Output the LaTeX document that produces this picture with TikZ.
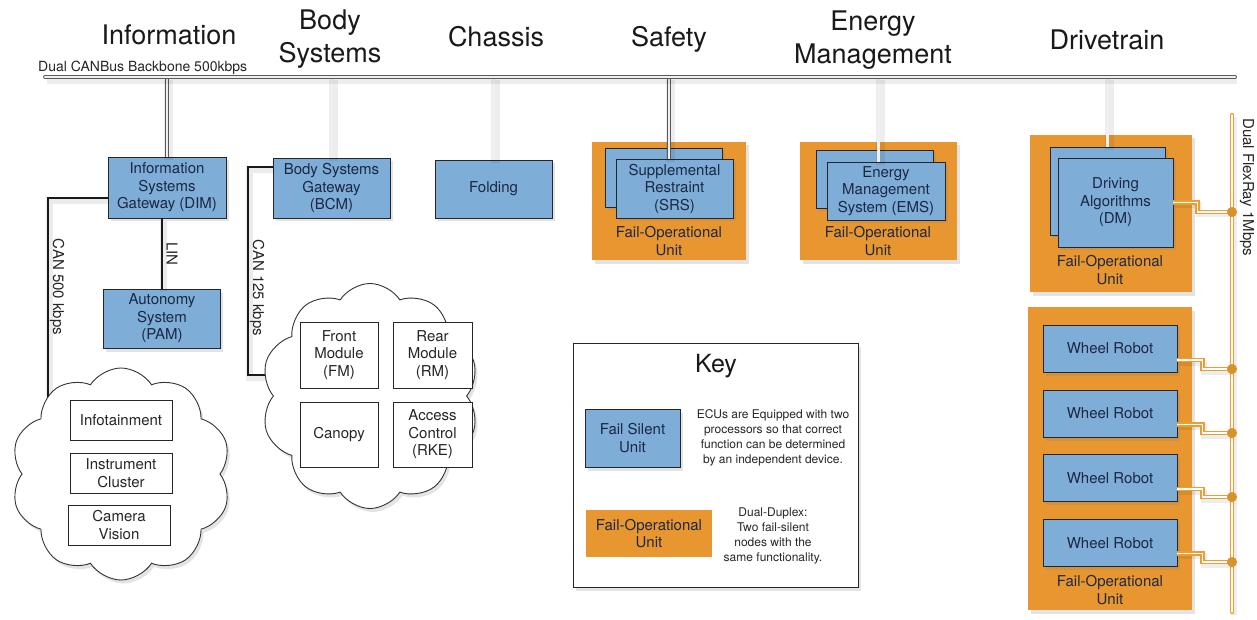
\documentclass[tikz,border=0pt]{standalone}
\usepackage{fontspec}
\setmainfont{TeX Gyre Heros}
\usetikzlibrary{shapes.symbols,shadows,calc}
\definecolor{ecublue}{RGB}{126,173,216}
\definecolor{ecuorange}{RGB}{232,150,48}
\definecolor{ecutext}{RGB}{28,40,66}
\definecolor{flexor}{RGB}{236,158,48}
\begin{document}
\begin{tikzpicture}[x=1pt,y=-1pt,
  every node/.style={font=\fontsize{15}{17.5}\selectfont, inner sep=0pt},
  shd/.style={drop shadow={shadow xshift=2.5pt, shadow yshift=-3.5pt, opacity=0.22}},
  ecu/.style={draw=black!85, line width=0.9pt, fill=ecublue, text=ecutext, align=center, shd},
  fobox/.style={fill=ecuorange, shd},
  folabel/.style={text=ecutext, align=center},
  plainbox/.style={draw=black!85, line width=0.9pt, fill=white, text=black!85, align=center},
  cloudbox/.style={cloud, cloud puffs=10, cloud puff arc=115, aspect=1, draw=black!80, line width=0.9pt, fill=white, shd},
  title/.style={font=\fontsize{27}{33}\selectfont, align=center, text=black!90},
  wlabel/.style={rotate=-90, text=black!85},
  wire/.style={draw=black!90, line width=2.6pt, preaction={draw=black, opacity=0.08, line width=7pt, transform canvas={xshift=1.5pt, yshift=-2.5pt}}},
  dbl/.style={draw=black!65, line width=0.8pt, double=white!88!gray, double distance=2.2pt, preaction={draw=black, opacity=0.07, line width=9pt, transform canvas={xshift=1.5pt, yshift=-3pt}}},
  flex/.style={draw=flexor, line width=1.5pt, double=white, double distance=1.3pt, preaction={draw=black, opacity=0.07, line width=6pt, transform canvas={xshift=1.5pt, yshift=-2.5pt}}},
  dot/.style={circle, fill=flexor!92!black, minimum size=10pt}
]
\fill[white] (0,0) rectangle (1257,620);
\useasboundingbox (0,0) rectangle (1257,620);

% titles
\node[title, anchor=base] (tInfo) at (169,45) {Information};
\node[title, anchor=north] (tBody) at (330,10) {Body\\Systems};
\node[title, anchor=base] (tChassis) at (496,47) {Chassis};
\node[title, anchor=base] (tSafety) at (669,47) {Safety};
\node[title, anchor=north] (tEnergy) at (873,11) {Energy\\Management};
\node[title, anchor=base] (tDrive) at (1107,50) {Drivetrain};

% bus coordinates and label
\coordinate (busL) at (45,77);
\coordinate (busR) at (1235,77);
\node[font=\fontsize{14}{16}\selectfont, anchor=base west, text=black!85] (busLabel) at (38,72) {Dual CANBus Backbone 500kbps};

% blue boxes
\node[ecu, minimum width=118pt, minimum height=61pt] (dim) at (167,187.5) {Information\\Systems\\Gateway (DIM)};
\node[ecu, minimum width=117pt, minimum height=60pt] (bcm) at (331.5,188) {Body Systems\\Gateway\\(BCM)};
\node[ecu, minimum width=117pt, minimum height=58pt] (fold) at (493.5,189) {Folding};
\node[ecu, minimum width=117pt, minimum height=59pt] (pam) at (162,318.5) {Autonomy\\System\\(PAM)};

% safety
\node[fobox, minimum width=154pt, minimum height=118pt] (srsU) at (669,201) {};
\node[ecu, minimum width=117pt, minimum height=59pt] (srsB) at (663.5,177.5) {};
\node[ecu, minimum width=117pt, minimum height=59pt] (srs) at (674.5,188.5) {Supplemental\\Restraint\\(SRS)};
\node[folabel] (srsL) at (669,241) {Fail-Operational\\Unit};

% energy
\node[fobox, minimum width=157pt, minimum height=118pt] (emsU) at (878.5,201) {};
\node[ecu, minimum width=117pt, minimum height=58pt] (emsB) at (874.5,179) {};
\node[ecu, minimum width=118pt, minimum height=58pt] (ems) at (886,191) {Energy\\Management\\System (EMS)};
\node[folabel] (emsL) at (878,241) {Fail-Operational\\Unit};

% drivetrain
\node[fobox, minimum width=162pt, minimum height=157pt] (dmU) at (1111,213.5) {};
\node[ecu, minimum width=115pt, minimum height=88pt] (dmB) at (1107.5,191) {};
\node[ecu, minimum width=115pt, minimum height=89pt] (dm) at (1115.5,202.5) {Driving\\Algorithms\\(DM)};
\node[folabel] (dmL) at (1110,270) {Fail-Operational\\Unit};

\node[fobox, minimum width=164pt, minimum height=303pt] (whU) at (1110,458.5) {};
\node[ecu, minimum width=134pt, minimum height=47pt] (w1) at (1110,348.5) {Wheel Robot};
\node[ecu, minimum width=134pt, minimum height=47pt] (w2) at (1110,413.5) {Wheel Robot};
\node[ecu, minimum width=134pt, minimum height=47pt] (w3) at (1110,478) {Wheel Robot};
\node[ecu, minimum width=134pt, minimum height=47pt] (w4) at (1110,543) {Wheel Robot};
\node[folabel] (whL) at (1110,590) {Fail-Operational\\Unit};

% local buses
\coordinate (c500) at (48,420);
\coordinate (c125a) at (248,375);
\coordinate (c125b) at (290,375);
\draw[wire] ($(dim.west)+(0,10.5)$) -| (c500);
\draw[wire] (pam.north |- dim.south) -- (pam.north);
\draw[wire] ($(bcm.west)+(0,-21)$) -| (c125a) -- (c125b);
\node[wlabel] (l500) at (57,287) {CAN 500 kbps};
\node[wlabel] (lLIN) at (172,254) {LIN};
\node[wlabel] (l125) at (257,288) {CAN 125 kbps};

% clouds
\node[cloudbox, minimum width=220pt, minimum height=212pt] (cloudL) at (121,474) {};
\node[plainbox, minimum width=102pt, minimum height=40pt] (info) at (121,420) {Infotainment};
\node[plainbox, minimum width=102pt, minimum height=40pt] (inst) at (121,473) {Instrument\\Cluster};
\node[plainbox, minimum width=102pt, minimum height=40pt] (cam) at (119,525) {Camera\\Vision};

\node[cloudbox, minimum width=218pt, minimum height=225pt] (cloudR) at (370,396) {};
\node[plainbox, minimum width=78pt, minimum height=66pt] (fm) at (339,355) {Front\\Module\\(FM)};
\node[plainbox, minimum width=79pt, minimum height=66pt] (rm) at (432.5,355) {Rear\\Module\\(RM)};
\node[plainbox, minimum width=78pt, minimum height=65pt] (can) at (339,434.5) {Canopy};
\node[plainbox, minimum width=79pt, minimum height=65pt] (rke) at (432.5,434.5) {Access\\Control\\(RKE)};

% drops from backbone
\draw[dbl] (dim.north |- busL) -- (dim.north);
\draw[dbl] (bcm.north |- busL) -- (bcm.north);
\draw[dbl] (fold.north |- busL) -- (fold.north);
\draw[dbl] (srsU.north |- busL) -- (srsU.north |- srs.north);
\draw[dbl] (emsU.north |- busL) -- (emsU.north |- ems.north);
\draw[dbl] (dmB.north |- busL) -- (dmB.north);
\draw[dbl, line cap=round] (busL) -- (busR);

% FlexRay
\coordinate (frTop) at (1232,115);
\coordinate (frBot) at (1232,612);
\coordinate (j0) at (1232,212);
\coordinate (j1) at (1232,369);
\coordinate (j2) at (1232,433);
\coordinate (j3) at (1232,497);
\coordinate (j4) at (1232,562);
\draw[flex, line cap=round] (frTop) -- (frBot);
\draw[flex] (dm.east) -- ++(24,0) |- (j0);
\draw[flex] ($(w1.east)+(0,11.5)$) -- ++(25,0) |- (j1);
\draw[flex] ($(w2.east)+(0,11)$) -- ++(25,0) |- (j2);
\draw[flex] ($(w3.east)+(0,11)$) -- ++(25,0) |- (j3);
\draw[flex] ($(w4.east)+(0,10.5)$) -- ++(25,0) |- (j4);
\node[dot] (dot0) at (j0) {};
\node[dot] (dot1) at (j1) {};
\node[dot] (dot2) at (j2) {};
\node[dot] (dot3) at (j3) {};
\node[dot] (dot4) at (j4) {};
\node[rotate=-90, anchor=west, text=black!85] (frLabel) at (1247,118) {Dual FlexRay 1Mbps};

% key
\node[draw=black!85, line width=0.9pt, fill=white, minimum width=285pt, minimum height=244pt, shd] (key) at (715.5,465) {};
\node[font=\fontsize{25}{30}\selectfont, text=black!90] (keyT) at (716,366) {Key};
\node[ecu, minimum width=95pt, minimum height=58pt] (kfs) at (632.5,438) {Fail Silent\\Unit};
\node[font=\fontsize{12}{15}\selectfont, align=center, text=black!85] (kfsD) at (773,438) {ECUs are Equipped with two\\processors so that correct\\function can be determined\\by an independent device.};
\node[fill=ecuorange, minimum width=126pt, minimum height=47pt, text=ecutext, align=center] (kfo) at (649,533.5) {Fail-Operational\\Unit};
\node[font=\fontsize{12}{15}\selectfont, align=center, text=black!85] (kfoD) at (773,536) {Dual-Duplex:\\Two fail-silent\\nodes with the\\same functionality.};
\end{tikzpicture}
\end{document}
